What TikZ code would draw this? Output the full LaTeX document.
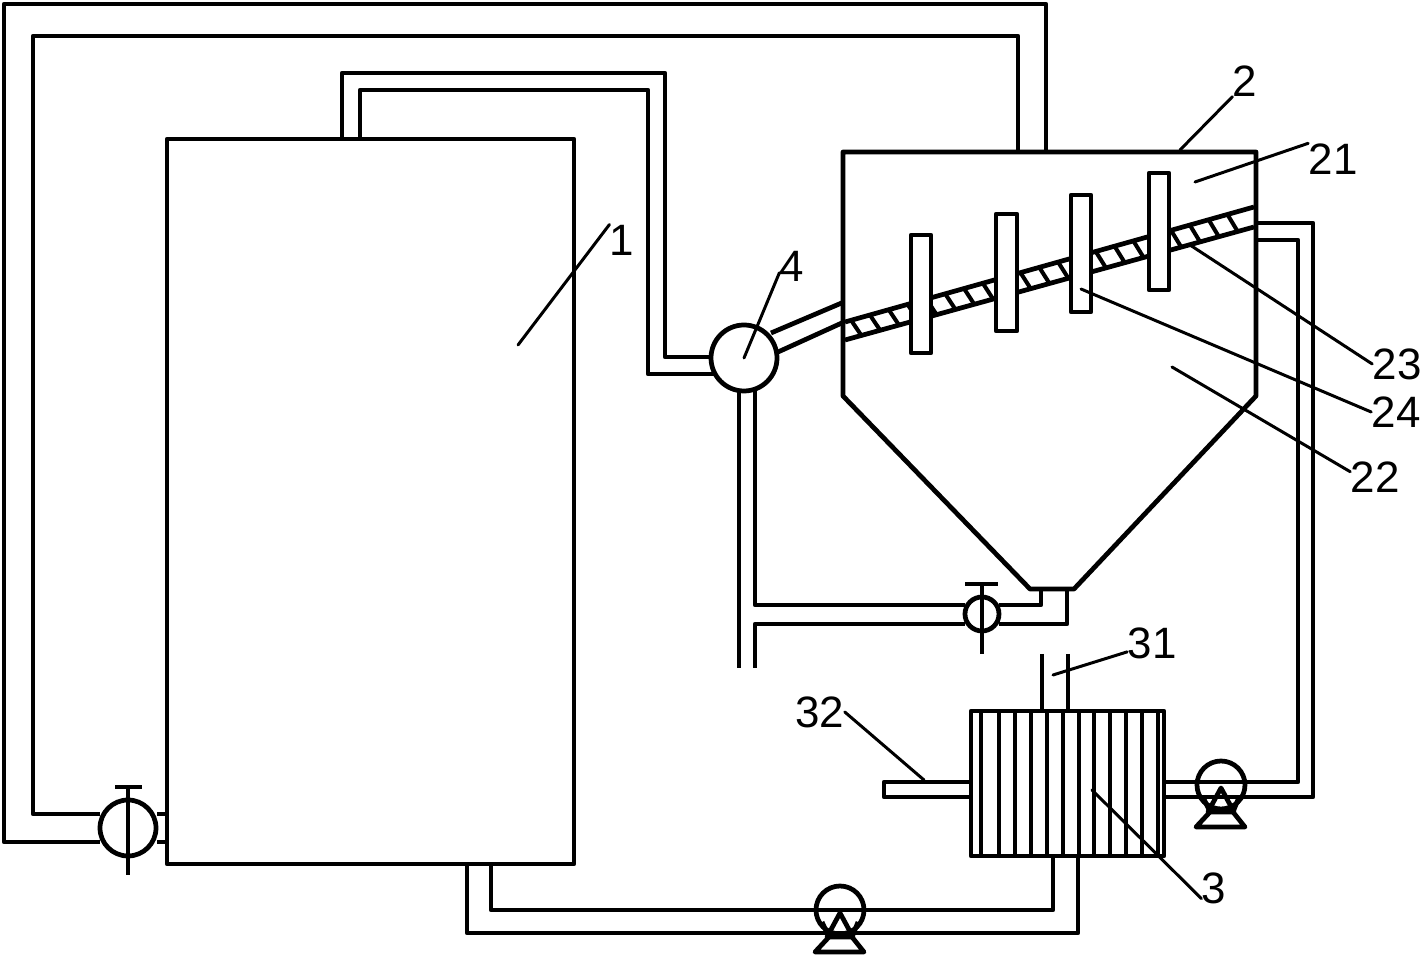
\documentclass[tikz,border=0pt]{standalone}
\usepackage{fontspec}
\setmainfont{Liberation Sans}
\usetikzlibrary{calc}

\tikzset{
  pipe/.style={line width=2.7pt,line join=round},
  thinline/.style={line width=2.3pt},
  leader/.style={line width=1.7pt,line cap=round},
  baffle/.style={pipe,fill=white},
  numlabel/.style={font=\fontsize{25}{25}\selectfont,inner sep=0pt}
}

\begin{document}
\begin{tikzpicture}[x=0.02cm,y=-0.02cm]
\useasboundingbox (0,0) rectangle (1428,955);

% tank 1
\draw[pipe] (167,139) rectangle (574,864);

% hopper 2
\draw[pipe] (843,152) -- (1256,152) -- (1256,396) -- (1074,589) -- (1030,589) -- (843,396) -- cycle;

% screw and baffles
\coordinate (screwa) at (845,322);
\coordinate (screwb) at (1254,207);
\coordinate (screwc) at (845,340);
\coordinate (screwd) at (1254,227);
\draw[pipe] (screwa) -- (screwb);
\draw[pipe] (screwc) -- (screwd);
\foreach \t [evaluate=\t as \s using \t-0.025] in {0.04,0.086,...,0.99}
  \draw[thinline] ($(screwa)!\s!(screwb)$) -- ($(screwc)!\t!(screwd)$);
\draw[baffle] (911,235) rectangle (931,353);
\draw[baffle] (996,214) rectangle (1017,331);
\draw[baffle] (1071,195) rectangle (1091,312);
\draw[baffle] (1149,173) rectangle (1169,290);

% outer loop, valve at the tank
\draw[pipe] (100,814) -- (33,814) -- (33,36) -- (1018,36) -- (1018,152);
\draw[pipe] (100,842) -- (4,842) -- (4,4) -- (1046,4) -- (1046,152);
\draw[pipe] (157,814) -- (167,814);
\draw[pipe] (157,842) -- (167,842);
\draw[pipe] (128,828) circle (28);
\draw[pipe] (115,787) -- (142,787);
\draw[pipe] (128,787) -- (128,875);

% pump 4 and its pipes
\draw[pipe] (342,139) -- (342,73) -- (665,73) -- (665,357) -- (711,357);
\draw[pipe] (360,139) -- (360,90) -- (648,90) -- (648,374) -- (714,374);
\draw[pipe] (744,358) circle (33);
\draw[pipe] (771,333) -- (844,302);
\draw[pipe] (778,352) -- (844,322);
\draw[pipe] (739,391) -- (739,668);
\draw[pipe] (755,391) -- (755,605) -- (965,605);
\draw[pipe] (755,668) -- (755,624) -- (965,624);

% valve under the hopper
\draw[pipe] (999,605) -- (1041,605) -- (1041,589);
\draw[pipe] (999,624) -- (1067,624) -- (1067,589);
\draw[pipe] (982,614) circle (17);
\draw[pipe] (965,584) -- (998,584);
\draw[pipe] (982,584) -- (982,654);

% heat exchanger 3
\draw[pipe] (971,711) rectangle (1164,856);
\foreach \x in {981,999,1015,1031,1047,1063,1079,1094,1110,1126,1142,1158}
  \draw[thinline] (\x,711) -- (\x,856);
\draw[pipe] (1042,654) -- (1042,711);
\draw[pipe] (1068,654) -- (1068,711);
\draw[pipe] (971,782) -- (884,782) -- (884,797) -- (971,797);

% return pipe
\draw[pipe] (1164,782) -- (1298,782) -- (1298,240) -- (1256,240);
\draw[pipe] (1164,797) -- (1313,797) -- (1313,223) -- (1256,223);

% bottom pipes
\draw[pipe] (467,864) -- (467,933) -- (1078,933) -- (1078,856);
\draw[pipe] (491,864) -- (491,910) -- (1053,910) -- (1053,856);

% pumps
\foreach \px/\py in {1221/785,840/910}{
  \draw[pipe] (\px,\py) circle (24);
  \draw[pipe] (\px,\py+3) -- (\px-13,\py+27) -- (\px+13,\py+27) -- cycle;
  \draw[pipe] (\px-18,\py+12) -- (\px-11,\py+27) -- (\px-25,\py+42) -- (\px+24,\py+42) -- (\px+12,\py+27) -- (\px+18,\py+12);
}

% labels
\node[numlabel] (lab1) at (622,240) {1};
\node[numlabel] (lab2) at (1245,81) {2};
\node[numlabel] (lab21) at (1333,159) {21};
\node[numlabel] (lab22) at (1375,477) {22};
\node[numlabel] (lab23) at (1397,364) {23};
\node[numlabel] (lab24) at (1396,412) {24};
\node[numlabel] (lab3) at (1214,888) {3};
\node[numlabel] (lab31) at (1152,643) {31};
\node[numlabel] (lab32) at (820,712) {32};
\node[numlabel] (lab4) at (792,266) {4};

\coordinate (tip1) at (518,345);
\coordinate (tip2) at (1180,150);
\coordinate (tip21) at (1195,182);
\coordinate (tip22) at (1172,367);
\coordinate (tip23) at (1190,245);
\coordinate (tip24) at (1081,289);
\coordinate (tip3) at (1092,790);
\coordinate (tip31) at (1053,675);
\coordinate (tip32) at (924,780);
\coordinate (tip4) at (744,358);

\draw[leader] (tip1) -- (lab1.north west);
\draw[leader] (tip2) -- (lab2.south west);
\draw[leader] (tip21) -- (lab21.north west);
\draw[leader] (tip22) -- ([yshift=3pt]lab22.west);
\draw[leader] (tip23) -- (lab23.west);
\draw[leader] (tip24) -- (lab24.west);
\draw[leader] (tip3) -- ([yshift=3pt]lab3.south west);
\draw[leader] (tip31) -- ([yshift=4pt]lab31.south west);
\draw[leader] (tip32) -- (lab32.east);
\draw[leader] (tip4) -- ([yshift=5pt]lab4.south west);

\end{tikzpicture}
\end{document}
